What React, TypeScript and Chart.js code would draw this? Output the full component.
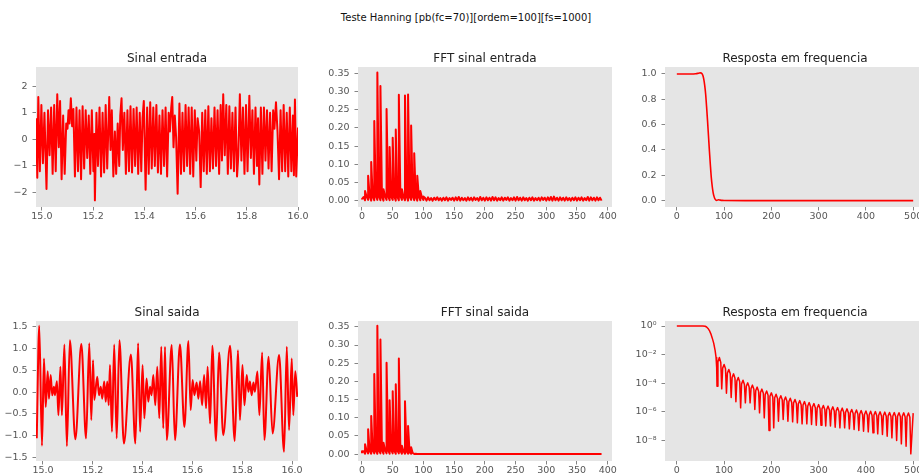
import React, { useEffect, useRef } from "react";
import { Chart, registerables } from "chart.js";

Chart.register(...registerables);

// ---------------- text ----------------
const SUPTITLE = "Teste Hanning [pb(fc=70)][ordem=100][fs=1000]";
const TITLES = [
  "Sinal entrada",
  "FFT sinal entrada",
  "Resposta em frequencia",
  "Sinal saida",
  "FFT sinal saida",
  "Resposta em frequencia",
];

// ---------------- tick labels ----------------
const timeTicks = [15.0, 15.2, 15.4, 15.6, 15.8, 16.0];
const inputYTicks = [-2, -1, 0, 1, 2];
const fftXTicks = [0, 50, 100, 150, 200, 250, 300, 350, 400];
const fftYTicks = [0, 0.05, 0.1, 0.15, 0.2, 0.25, 0.3, 0.35];
const respXTicks = [0, 100, 200, 300, 400, 500];
const respYTicks = [0, 0.2, 0.4, 0.6, 0.8, 1.0];
const outputYTicks = [-1.5, -1.0, -0.5, 0, 0.5, 1.0, 1.5];
const respLogTicks = [1, 1e-2, 1e-4, 1e-6, 1e-8];

// ---------------- Sinal entrada (extrema, s / amplitude) ----------------
const inputTimes = [
  14.978, 14.982, 14.986, 14.992, 14.998, 15.004, 15.010, 15.018, 15.024, 15.030,
  15.036, 15.042, 15.048, 15.054, 15.060, 15.066, 15.071, 15.077, 15.083, 15.089,
  15.095, 15.100, 15.104, 15.108, 15.113, 15.118, 15.123, 15.129, 15.135, 15.141,
  15.147, 15.153, 15.159, 15.165, 15.171, 15.177, 15.183, 15.189, 15.195, 15.201,
  15.204, 15.207, 15.213, 15.219, 15.225, 15.231, 15.237, 15.243, 15.249, 15.255,
  15.263, 15.268, 15.273, 15.279, 15.285, 15.290, 15.296, 15.302, 15.306, 15.311,
  15.316, 15.322, 15.328, 15.334, 15.340, 15.346, 15.352, 15.358, 15.364, 15.370,
  15.376, 15.382, 15.388, 15.393, 15.398, 15.405, 15.411, 15.417, 15.423, 15.429,
  15.435, 15.441, 15.447, 15.453, 15.459, 15.465, 15.471, 15.477, 15.483, 15.489,
  15.495, 15.500, 15.505, 15.509, 15.514, 15.519, 15.524, 15.530, 15.537, 15.543,
  15.549, 15.555, 15.561, 15.567, 15.573, 15.579, 15.585, 15.591, 15.597, 15.603,
  15.608, 15.614, 15.620, 15.626, 15.632, 15.638, 15.644, 15.650, 15.656, 15.662,
  15.668, 15.674, 15.680, 15.686, 15.692, 15.698, 15.703, 15.708, 15.714, 15.720,
  15.726, 15.732, 15.738, 15.744, 15.750, 15.756, 15.762, 15.767, 15.773, 15.779,
  15.785, 15.791, 15.797, 15.803, 15.810, 15.816, 15.822, 15.828, 15.834, 15.840,
  15.844, 15.849, 15.855, 15.861, 15.867, 15.873, 15.879, 15.885, 15.891, 15.897,
  15.903, 15.908, 15.914, 15.920, 15.926, 15.932, 15.938, 15.944, 15.950, 15.956,
  15.962, 15.968, 15.974, 15.980, 15.984, 15.988, 15.993, 16.000,
];
const inputValues = [
  0.8, -1.45, 1.6, -1.2, 1.3, -0.9, 1.0, -1.87, 1.1, -0.6,
  1.2, -1.3, 1.3, -1.2, 1.7, -0.3, 1.45, -1.5, 0.9, -1.3,
  0.6, 0.4, 1.1, 0.6, 1.55, 0.5, 1.15, -1.4, 1.2, -1.2,
  1.1, -1.5, 1.25, -1.1, 1.1, -0.7, 0.9, -1.3, 1.1, -1.2,
  0.2, -2.3, 1.0, -1.0, 1.2, -1.4, 1.0, -1.25, 1.3, -1.1,
  1.6, -0.4, 1.1, -1.4, 0.3, -1.3, 0.6, -1.0, 0.9, 1.55,
  -0.4, 1.0, -1.3, 1.1, -1.2, 1.25, -1.25, 1.15, -1.0, 1.2,
  -1.3, 1.0, -1.2, 0.8, 1.45, -1.9, 1.2, -1.3, 1.4, -1.1,
  1.2, -1.0, 1.3, -1.25, 0.9, -1.3, 1.1, -1.0, 1.2, -1.4,
  1.0, 0.3, 1.2, 1.6, -0.3, 0.9, 0.1, -2.05, 1.35, -1.3,
  1.0, -1.2, 1.3, -1.0, 1.2, -1.3, 1.2, -1.4, 1.1, -0.8,
  0.8, 0.3, -1.8, 1.0, -1.2, 1.1, -1.3, 1.25, -1.2, 0.8,
  -1.1, 1.2, -1.0, 1.1, -1.3, 1.3, -0.8, 1.7, -0.6, 1.3,
  -1.3, 1.25, -1.1, 1.0, -1.2, 1.2, -1.4, -0.6, 1.7, -0.8,
  1.2, -1.3, 1.3, -1.2, 1.65, -0.7, 1.1, -1.3, 1.2, -1.0,
  0.8, -1.7, 1.2, -1.3, 1.2, -0.8, 1.1, -1.1, 1.0, -1.2,
  1.1, 0.4, 1.4, 0.3, -1.5, 1.1, -1.2, 1.3, -1.2, 1.0,
  -1.4, 1.2, -1.2, 0.9, -1.35, 1.5, -1.4, 0.45,
];

// ---------------- FFT sinal entrada ----------------
const FFT_BIN_STEP = 2.5; // Hz between plotted bins
const inputFftFloor = [
  0.004, 0.011, 0.002, 0.012, 0.003, 0.013, 0.001, 0.012, 0.002, 0.014,
  0.003, 0.013, 0.002, 0.012, 0.001, 0.013, 0.003, 0.014, 0.002, 0.012,
  0.003, 0.013, 0.001, 0.012, 0.002, 0.014, 0.003, 0.012, 0.002, 0.013,
  0.001, 0.012, 0.003, 0.013, 0.002, 0.011, 0.001, 0.012, 0.002, 0.010,
  0.003, 0.009, 0.001, 0.010, 0.002, 0.008, 0.001, 0.009, 0.003, 0.010,
  0.002, 0.008, 0.001, 0.009, 0.002, 0.010, 0.001, 0.008, 0.003, 0.009,
  0.001, 0.010, 0.002, 0.011, 0.001, 0.009, 0.002, 0.008, 0.001, 0.010,
  0.002, 0.009, 0.001, 0.010, 0.003, 0.008, 0.001, 0.011, 0.002, 0.009,
  0.001, 0.010, 0.002, 0.009, 0.001, 0.011, 0.002, 0.010, 0.001, 0.008,
  0.002, 0.010, 0.001, 0.009, 0.003, 0.010, 0.001, 0.008, 0.002, 0.010,
  0.001, 0.011, 0.002, 0.009, 0.001, 0.010, 0.002, 0.008, 0.001, 0.009,
  0.002, 0.010, 0.001, 0.008, 0.002, 0.009, 0.001, 0.010, 0.003, 0.009,
  0.001, 0.010, 0.002, 0.011, 0.001, 0.012, 0.002, 0.009, 0.001, 0.010,
  0.002, 0.009, 0.001, 0.010, 0.002, 0.008, 0.001, 0.009, 0.002, 0.010,
  0.001, 0.009, 0.002, 0.010, 0.001, 0.008, 0.002, 0.011, 0.001, 0.010,
  0.002, 0.009, 0.001, 0.010, 0.002, 0.009, 0.001,
];
const inputPeakFreqs = [0, 5, 10, 15, 20, 25, 30, 35, 40, 45, 50, 55, 60, 65, 70, 75, 80, 85, 90, 95, 100];
const inputPeakAmps = [
  0.005, 0.027, 0.069, 0.107, 0.219, 0.352, 0.315, 0.032, 0.252, 0.148, 0.173,
  0.196, 0.291, 0.032, 0.289, 0.292, 0.207, 0.131, 0.069, 0.027, 0.012,
];

// ---------------- Resposta em frequencia (linear) ----------------
const respFreqs = [
  0, 10, 20, 30, 40, 46, 50, 53, 55, 57, 59, 61, 63, 65, 67, 69, 71, 73, 75, 77,
  79, 81, 84, 88, 92, 96, 100, 150, 200, 300, 400, 500,
];
const respValues = [
  1, 1, 1, 1, 1.002, 1.006, 1.009, 1.004, 0.99, 0.96, 0.91, 0.84, 0.74, 0.63, 0.51, 0.39, 0.28, 0.18, 0.11, 0.06,
  0.03, 0.012, 0.002, 0.007, 0.004, 0.002, 0.001, 0.0001, 0, 0, 0, 0,
];

// ---------------- Sinal saida (extrema) ----------------
const outputTimes = [
  14.975, 14.985, 14.996, 15.004, 15.011, 15.019, 15.024, 15.031, 15.037, 15.044,
  15.048, 15.056, 15.062, 15.070, 15.076, 15.086, 15.096, 15.108, 15.130, 15.154,
  15.173, 15.186, 15.194, 15.201, 15.206, 15.218, 15.225, 15.232, 15.238, 15.246,
  15.252, 15.258, 15.264, 15.269, 15.277, 15.286, 15.296, 15.307, 15.325, 15.353,
  15.371, 15.382, 15.390, 15.400, 15.407, 15.416, 15.423, 15.430, 15.436, 15.443,
  15.451, 15.459, 15.467, 15.475, 15.483, 15.490, 15.497, 15.517, 15.530, 15.550,
  15.568, 15.584, 15.593, 15.601, 15.608, 15.617, 15.624, 15.631, 15.639, 15.647,
  15.655, 15.661, 15.671, 15.680, 15.695, 15.707, 15.724, 15.751, 15.770, 15.783,
  15.791, 15.801, 15.809, 15.818, 15.825, 15.831, 15.838, 15.845, 15.851, 15.861,
  15.869, 15.880, 15.889, 15.906, 15.922, 15.948, 15.968, 15.979, 15.988, 15.999,
  16.005, 16.013, 16.021,
];
const outputValues = [
  -1.06, 1.52, -1.23, 0.77, -0.34, 0.48, -0.15, 0.39, -0.07, 0.12,
  -0.07, 0.25, -0.53, 0.58, -0.53, 1.09, -1.24, 1.19, -1.08, 1.10,
  -1.06, 1.12, -0.64, 0.73, -0.18, 0.35, -0.07, 0.12, -0.15, 0.24,
  -0.22, 0.24, -0.30, 0.62, -0.91, 1.09, -1.06, 1.19, -1.18, 0.86,
  -1.18, 1.12, -0.91, 0.62, -0.60, 0.31, -0.22, 0.12, -0.07, 0.39,
  -0.30, 0.58, -0.60, 1.04, -0.83, 1.04, -1.10, 1.08, -1.10, 1.09,
  -0.80, 1.17, -0.41, 0.28, -0.07, 0.22, -0.15, 0.25, -0.30, 0.39,
  -0.37, 0.58, -0.72, 1.06, -1.12, 0.91, -0.99, 1.06, -1.12, 0.96,
  -0.64, 0.62, -0.30, 0.39, 0.01, 0.24, -0.07, 0.22, 0.01, 0.47,
  -0.53, 0.91, -1.10, 0.81, -0.95, 0.85, -1.37, 1.04, -0.87, 0.77,
  -0.53, 0.48, -0.11,
];

// ---------------- FFT sinal saida ----------------
const outputFftFloor = [
  0.002, 0.008, 0.001, 0.009, 0.002, 0.009, 0.001, 0.010, 0.002, 0.010,
  0.001, 0.010, 0.002, 0.011, 0.001, 0.011, 0.002, 0.011, 0.001, 0.011,
  0.002, 0.010, 0.001, 0.010, 0.002, 0.009, 0.001, 0.008, 0.001, 0.007,
  0.001, 0.005, 0.001, 0.003, 0.0005, 0.001,
];
const outputFftTailFreqs = [90, 390];
const outputFftTailValues = [0.0004, 0.0004];
const outputPeakFreqs = [0, 5, 10, 15, 20, 25, 30, 35, 40, 45, 50, 55, 60, 65, 70, 75, 80];
const outputPeakAmps = [
  0.008, 0.027, 0.068, 0.105, 0.220, 0.353, 0.315, 0.031, 0.251, 0.148, 0.173,
  0.192, 0.263, 0.023, 0.145, 0.077, 0.019,
];

// ---------------- Resposta em frequencia (log10 of magnitude) ----------------
const mainLobeFreqs = [0, 20, 40, 55, 60, 63, 66, 69, 72, 75, 78, 81, 83, 84.3];
const mainLobeLog = [0, 0, 0, 0.003, -0.02, -0.07, -0.17, -0.32, -0.55, -0.85, -1.2, -1.7, -2.2, -2.9];
const nullFreqs = [
  85, 95, 105, 115, 125, 135, 145, 155, 165, 175,
  185, 195, 205, 215, 225, 235, 245, 255, 265, 275,
  285, 295, 305, 315, 325, 335, 345, 355, 365, 375,
  385, 395, 405, 415, 425, 435, 445, 455, 465, 475,
  485, 495,
];
const nullLog = [
  -4.22, -4.4, -4.7, -5.0, -5.3, -5.73, -5.38, -5.38, -5.85, -6.08,
  -6.43, -7.32, -7.13, -6.67, -6.55, -6.67, -6.71, -6.78, -6.85, -6.85,
  -6.9, -6.95, -6.95, -7.0, -7.0, -7.09, -7.13, -7.13, -7.2, -7.25,
  -7.32, -7.37, -7.41, -7.48, -7.55, -7.6, -7.72, -7.83, -8.02, -8.25,
  -8.42, -8.95,
];
const lobeFreqs = [
  90, 100, 110, 120, 130, 140, 150, 160, 170, 180,
  190, 200, 210, 220, 230, 240, 250, 260, 270, 280,
  290, 300, 310, 320, 330, 340, 350, 360, 370, 380,
  390, 400, 410, 420, 430, 440, 450, 460, 470, 480,
  490, 500,
];
const lobeLog = [
  -2.2, -2.7, -3.05, -3.35, -3.6, -3.8, -3.98, -4.14, -4.28, -4.42,
  -4.55, -4.68, -4.78, -4.88, -4.97, -5.06, -5.14, -5.22, -5.29, -5.36,
  -5.43, -5.5, -5.56, -5.61, -5.66, -5.71, -5.75, -5.8, -5.84, -5.88,
  -5.92, -5.95, -5.97, -5.99, -6.01, -6.03, -6.05, -6.06, -6.07, -6.08,
  -6.09, -6.1,
];
// rounded flanks of each side lobe (read a few Hz either side of the lobe top)
const lobeLeftFreqs = [
  87, 97, 107, 117, 127, 137, 147, 157, 167, 177,
  187, 197, 207, 217, 227, 237, 247, 257, 267, 277,
  287, 297, 307, 317, 327, 337, 347, 357, 367, 377,
  387, 397, 407, 417, 427, 437, 447, 457, 467, 477,
  487, 497,
];
const lobeLeftLog = [
  -2.5, -2.95, -3.3, -3.6, -3.85, -4.05, -4.22, -4.38, -4.52, -4.66,
  -4.79, -4.92, -5.02, -5.12, -5.21, -5.3, -5.38, -5.46, -5.53, -5.6,
  -5.67, -5.74, -5.8, -5.85, -5.9, -5.95, -5.99, -6.04, -6.08, -6.12,
  -6.16, -6.19, -6.21, -6.23, -6.25, -6.27, -6.29, -6.3, -6.31, -6.32,
  -6.33, -6.35,
];
const lobeRightFreqs = [
  93, 103, 113, 123, 133, 143, 153, 163, 173, 183,
  193, 203, 213, 223, 233, 243, 253, 263, 273, 283,
  293, 303, 313, 323, 333, 343, 353, 363, 373, 383,
  393, 403, 413, 423, 433, 443, 453, 463, 473, 483,
  493,
];
const lobeRightLog = [
  -2.55, -3.0, -3.35, -3.65, -3.9, -4.1, -4.27, -4.43, -4.57, -4.71,
  -4.84, -4.97, -5.07, -5.17, -5.26, -5.35, -5.43, -5.51, -5.58, -5.65,
  -5.72, -5.79, -5.85, -5.9, -5.95, -6.0, -6.04, -6.09, -6.13, -6.17,
  -6.21, -6.24, -6.26, -6.28, -6.3, -6.32, -6.34, -6.35, -6.36, -6.37,
  -6.38,
];

// ---------------- layout / style ----------------
const FONT = "'DejaVu Sans', 'Liberation Sans', sans-serif";
const RED = "#ff0000";
const AXIS_W = 40;
const AXIS_H = 22;
const TITLE_H = 25;
const PAD_R = 16;

type Pt = { x: number; y: number };
type Rect = { left: number; top: number; right: number; bottom: number };

const RECTS: Rect[] = [
  { left: 36, top: 67, right: 298, bottom: 207 },
  { left: 358, top: 67, right: 612, bottom: 207 },
  { left: 665, top: 67, right: 925, bottom: 207 },
  { left: 36, top: 321, right: 298, bottom: 461 },
  { left: 358, top: 321, right: 612, bottom: 461 },
  { left: 665, top: 321, right: 925, bottom: 461 },
];

function pairs(xs: number[], ys: number[]): Pt[] {
  const n = Math.min(xs.length, ys.length);
  const out: Pt[] = [];
  for (let i = 0; i < n; i++) out.push({ x: xs[i], y: ys[i] });
  return out;
}

function fftPoints(floor: number[], peakF: number[], peakA: number[], tailF: number[] = [], tailV: number[] = []): Pt[] {
  const out: Pt[] = [];
  floor.forEach((v, i) => {
    const f = i * FFT_BIN_STEP;
    out.push({ x: f, y: v });
    const k = peakF.indexOf(f);
    if (k >= 0) out.push({ x: f, y: peakA[k] });
  });
  pairs(tailF, tailV).forEach((p) => out.push(p));
  return out;
}

function logRespPoints(): Pt[] {
  const pts = [
    ...pairs(mainLobeFreqs, mainLobeLog),
    ...pairs(nullFreqs, nullLog),
    ...pairs(lobeFreqs, lobeLog),
    ...pairs(lobeLeftFreqs.slice(0, 41), lobeLeftLog),
    ...pairs(lobeRightFreqs, lobeRightLog),
  ];
  pts.sort((a, b) => a.x - b.x);
  return pts.map((p) => ({ x: p.x, y: Math.pow(10, p.y) }));
}

const num = (d: number) => (v: number) => {
  const s = Math.abs(v).toFixed(d);
  return (v < -1e-9 ? "\u2212" : "") + s;
};
const SUP: Record<string, string> = {
  "-": "\u207b", "0": "\u2070", "1": "\u00b9", "2": "\u00b2", "3": "\u00b3", "4": "\u2074",
  "5": "\u2075", "6": "\u2076", "7": "\u2077", "8": "\u2078", "9": "\u2079",
};
const logFmt = (v: number) =>
  "10" + String(Math.round(Math.log10(v))).split("").map((c) => SUP[c] || c).join("");

type AxisSpec = {
  min: number;
  max: number;
  ticks: number[];
  fmt: (v: number) => string;
  log?: boolean;
};

const bgPlugin = {
  id: "plotBg",
  beforeDraw(chart: any) {
    const { ctx, chartArea: a } = chart;
    ctx.save();
    ctx.fillStyle = "#e5e5e5";
    ctx.fillRect(a.left, a.top, a.right - a.left, a.bottom - a.top);
    ctx.restore();
  },
};

function axis(spec: AxisSpec, isX: boolean) {
  return {
    type: spec.log ? "logarithmic" : "linear",
    position: isX ? "bottom" : "left",
    min: spec.min,
    max: spec.max,
    bounds: "data",
    afterBuildTicks: (s: any) => {
      s.ticks = spec.ticks.map((v) => ({ value: v }));
    },
    afterFit: (s: any) => {
      if (isX) s.height = AXIS_H;
      else s.width = AXIS_W;
    },
    ticks: {
      callback: (v: any) => spec.fmt(Number(v)),
      color: "#555555",
      font: { family: FONT, size: 9.5 },
      padding: isX ? 0.5 : 5,
      maxRotation: 0,
      minRotation: 0,
      autoSkip: false,
    },
    grid: {
      display: true,
      drawOnChartArea: false,
      drawTicks: true,
      tickLength: 3.5,
      tickColor: "#666666",
      tickWidth: 0.8,
    },
    border: { display: false },
  };
}

function makeConfig(title: string, data: Pt[], xs: AxisSpec, ys: AxisSpec, width: number, smooth: boolean): any {
  return {
    type: "line",
    data: {
      datasets: [
        {
          data,
          borderColor: RED,
          borderWidth: width,
          pointRadius: 0,
          pointHoverRadius: 0,
          fill: false,
          tension: 0,
          cubicInterpolationMode: smooth ? "monotone" : "default",
          borderJoinStyle: "round",
        },
      ],
    },
    options: {
      responsive: false,
      animation: false,
      events: [],
      devicePixelRatio: 1,
      layout: { padding: { left: 0, right: PAD_R, top: 0, bottom: 0 } },
      plugins: {
        legend: { display: false },
        tooltip: { enabled: false },
        title: {
          display: true,
          text: title,
          fullSize: false,
          color: "#222222",
          font: { family: FONT, size: 12, weight: "normal", lineHeight: 1.2 },
          padding: { top: 9.8, bottom: 0.8 },
        },
      },
      scales: { x: axis(xs, true), y: axis(ys, false) },
    },
    plugins: [bgPlugin],
  };
}

function SubChart({ rect, build }: { rect: Rect; build: () => any }) {
  const ref = useRef<HTMLCanvasElement>(null);
  const w = rect.right - rect.left + AXIS_W + PAD_R;
  const h = rect.bottom - rect.top + TITLE_H + AXIS_H;
  useEffect(() => {
    if (!ref.current) return;
    const chart = new Chart(ref.current, build());
    return () => chart.destroy();
  }, []);
  return (
    <canvas
      ref={ref}
      width={w}
      height={h}
      style={{
        position: "absolute",
        left: rect.left - AXIS_W,
        top: rect.top - TITLE_H,
        width: w,
        height: h,
        display: "block",
      }}
    />
  );
}

const timeAxisTop: AxisSpec = { min: 14.977, max: 16.0, ticks: timeTicks, fmt: num(1) };
const timeAxisBottom: AxisSpec = { min: 14.972, max: 16.024, ticks: timeTicks, fmt: num(1) };
const fftXAxis: AxisSpec = { min: -6.5, max: 407, ticks: fftXTicks, fmt: num(0) };
const respXAxis: AxisSpec = { min: -25, max: 525, ticks: respXTicks, fmt: num(0) };

const builders: (() => any)[] = [
  () =>
    makeConfig(TITLES[0], pairs(inputTimes, inputValues), timeAxisTop,
      { min: -2.55, max: 2.73, ticks: inputYTicks, fmt: num(0) }, 2.0, false),
  () =>
    makeConfig(TITLES[1], fftPoints(inputFftFloor, inputPeakFreqs, inputPeakAmps), fftXAxis,
      { min: -0.0165, max: 0.367, ticks: fftYTicks, fmt: num(2) }, 2.0, false),
  () =>
    makeConfig(TITLES[2], pairs(respFreqs, respValues), respXAxis,
      { min: -0.05, max: 1.055, ticks: respYTicks, fmt: num(1) }, 1.6, true),
  () =>
    makeConfig(TITLES[3], pairs(outputTimes, outputValues), timeAxisBottom,
      { min: -1.58, max: 1.63, ticks: outputYTicks, fmt: num(1) }, 2.0, true),
  () =>
    makeConfig(TITLES[4],
      fftPoints(outputFftFloor, outputPeakFreqs, outputPeakAmps, outputFftTailFreqs, outputFftTailValues),
      fftXAxis, { min: -0.019, max: 0.366, ticks: fftYTicks, fmt: num(2) }, 2.0, false),
  () =>
    makeConfig(TITLES[5], logRespPoints(), respXAxis,
      { min: Math.pow(10, -9.45), max: Math.pow(10, 0.35), ticks: respLogTicks, fmt: logFmt, log: true }, 1.5, false),
];

export default function App() {
  return (
    <div
      style={{
        position: "fixed",
        left: 0,
        top: 0,
        width: 919,
        height: 474,
        overflow: "hidden",
        background: "#ffffff",
      }}
    >
      <div
        style={{
          position: "absolute",
          left: 0,
          top: 11,
          width: 932,
          textAlign: "center",
          fontFamily: FONT,
          fontSize: 10,
          lineHeight: "13px",
          color: "#111111",
          whiteSpace: "nowrap",
        }}
      >
        {SUPTITLE}
      </div>
      {RECTS.map((r, i) => (
        <SubChart key={i} rect={r} build={builders[i]} />
      ))}
    </div>
  );
}
